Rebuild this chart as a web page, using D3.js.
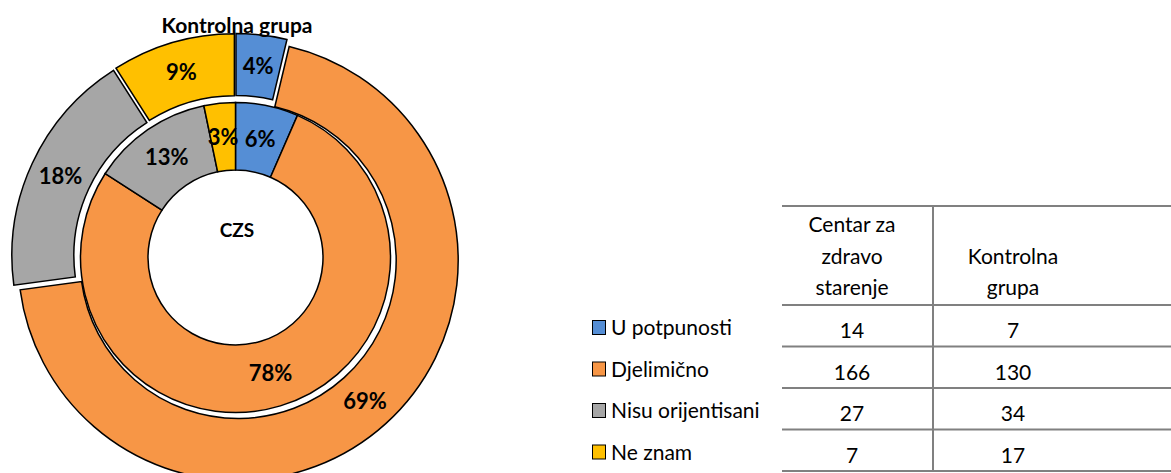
<!DOCTYPE html>
<html>
<head>
<meta charset="utf-8">
<script src="https://cdn.jsdelivr.net/npm/d3@7"></script>
<style>
  body { margin: 0; background: #fff; }
  text { font-family: Lato, "Open Sans", sans-serif; fill: #000; }
</style>
</head>
<body>
<div id="chart"></div>
<script>
const width = 1171,
      height = 473;

const categories = ["U potpunosti", "Djelimično", "Nisu orijentisani", "Ne znam"];
const czsValues = [14, 166, 27, 7];
const kontrolnaValues = [7, 130, 34, 17];
const colHeaders = [["Centar za", "zdravo", "starenje"], ["Kontrolna", "grupa"]];
const colors = ["#558ED5", "#F79646", "#A6A6A6", "#FFC000"];

const cx = 235.5, cy = 257.5;
const holeR = 87.5, innerR = 155,
      outerIn = 158, outerR = 220,
      explode = 4;

const color = d3.scaleOrdinal().domain(categories).range(colors);

const svg = d3.select("#chart")
  .append("svg")
    .attr("width", width)
    .attr("height", height);

const pie = d3.pie().sort(null).value(d => d.value);

// percentages that add up to 100 (largest remainder, like Excel labels)
function percents(values) {
  const total = d3.sum(values);
  const raw = values.map(v => v / total * 100);
  const out = raw.map(Math.floor);
  let left = 100 - d3.sum(out);
  d3.range(raw.length)
    .sort((a, b) => (raw[b] - out[b]) - (raw[a] - out[a]))
    .forEach(i => { if (left > 0) { out[i]++; left--; } });
  return out;
}

function ring(values, r0, r1, offset) {
  const pct = percents(values);
  const data = pie(values.map((v, i) => ({ cat: categories[i], value: v, pct: pct[i] })));
  const arc = d3.arc().innerRadius(r0).outerRadius(r1);
  const g = svg.append("g").attr("transform", `translate(${cx},${cy})`);

  const slice = g.selectAll("g")
    .data(data)
    .enter()
    .append("g")
      .attr("transform", d => {
        const a = (d.startAngle + d.endAngle) / 2;
        return `translate(${offset * Math.sin(a)},${-offset * Math.cos(a)})`;
      });

  slice.append("path")
      .attr("d", arc)
      .attr("fill", d => color(d.data.cat))
      .attr("stroke", "#000")
      .attr("stroke-width", 1.5);

  slice.append("text")
      .attr("transform", d => `translate(${arc.centroid(d)})`)
      .attr("text-anchor", "middle")
      .attr("dy", "0.36em")
      .style("font-size", "22px")
      .style("font-weight", "bold")
      .text(d => d.data.pct + "%");
}

// outer ring: Kontrolna grupa (exploded), inner ring: CZS
ring(kontrolnaValues, outerIn, outerR, explode);
ring(czsValues, holeR, innerR, 0);

svg.append("text")
    .attr("x", 237).attr("y", 33)
    .attr("text-anchor", "middle")
    .style("font-size", "21px")
    .style("font-weight", "bold")
    .text("Kontrolna grupa");

svg.append("text")
    .attr("x", 237).attr("y", 237)
    .attr("text-anchor", "middle")
    .style("font-size", "19px")
    .style("font-weight", "bold")
    .text("CZS");

// data table with legend
const tableLeft = 782, tableRight = width, colSplit = 933,
      headTop = 206, rowsTop = 305, rowsBottom = 471;

const rowY = d3.scaleBand()
    .domain(categories)
    .range([rowsTop, rowsBottom]);

const colX = d3.scalePoint()
    .domain([0, 1])
    .range([852, 1013]);

const table = svg.append("g");

table.selectAll(".hline")
  .data([headTop, rowsTop].concat(categories.map(c => rowY(c) + rowY.bandwidth())))
  .enter()
  .append("line")
    .attr("class", "hline")
    .attr("x1", tableLeft).attr("x2", tableRight)
    .attr("y1", d => d).attr("y2", d => d)
    .attr("stroke", "#808080")
    .attr("stroke-width", 2);

table.append("line")
    .attr("x1", colSplit).attr("x2", colSplit)
    .attr("y1", headTop).attr("y2", rowsBottom)
    .attr("stroke", "#808080")
    .attr("stroke-width", 2);

colHeaders.forEach((lines, ci) => {
  table.append("g")
    .selectAll("text")
    .data(lines)
    .enter()
    .append("text")
      .attr("x", colX(ci))
      .attr("y", (d, i) => 295 - (lines.length - 1 - i) * 31.5)
      .attr("text-anchor", "middle")
      .style("font-size", "21px")
      .text(d => d);
});

const row = table.selectAll(".row")
  .data(categories)
  .enter()
  .append("g")
    .attr("class", "row")
    .attr("transform", d => `translate(0,${rowY(d)})`);

row.append("rect")
    .attr("x", 592.5).attr("y", 15.5)
    .attr("width", 13).attr("height", 14)
    .attr("fill", d => color(d))
    .attr("stroke", "#000")
    .attr("stroke-width", 1);

row.append("text")
    .attr("x", 611).attr("y", 30)
    .style("font-size", "21px")
    .text(d => d);

row.append("text")
    .attr("x", colX(0)).attr("y", 33)
    .attr("text-anchor", "middle")
    .style("font-size", "21px")
    .text((d, i) => czsValues[i]);

row.append("text")
    .attr("x", colX(1)).attr("y", 33)
    .attr("text-anchor", "middle")
    .style("font-size", "21px")
    .text((d, i) => kontrolnaValues[i]);
</script>
</body>
</html>
